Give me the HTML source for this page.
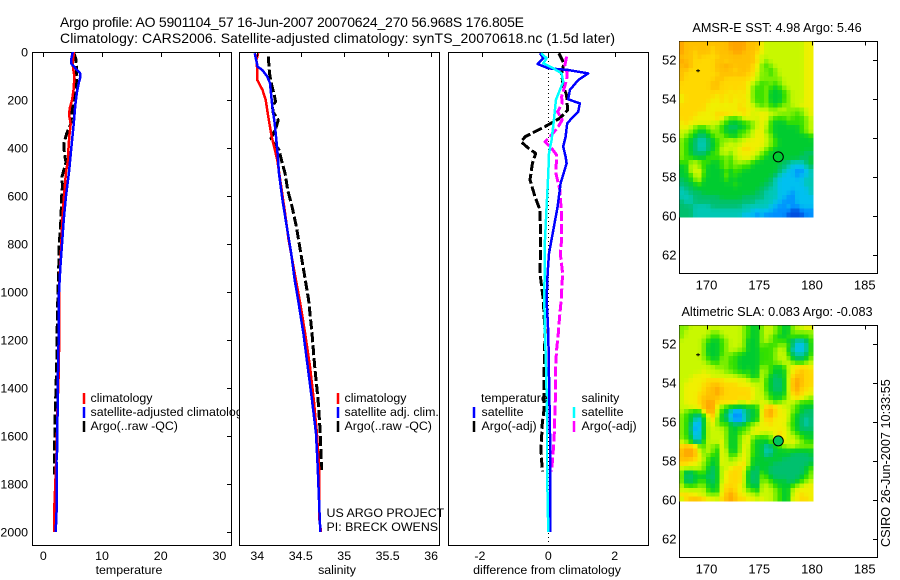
<!DOCTYPE html>
<html lang="en">
<head>
<meta charset="utf-8">
<title>Argo profile 5901104_57</title>
<style>
html,body{margin:0;padding:0;background:#fff;}
svg{display:block;}
text{font-family:"Liberation Sans",Arial,sans-serif;font-size:12.4px;fill:#000;}
.ttl{font-size:14px;}
.maplabel{font-size:12.7px;}
.box{fill:#fff;stroke:#000;stroke-width:1;shape-rendering:crispEdges;}
.mid{text-anchor:middle;}
.end{text-anchor:end;}
</style>
</head>
<body>
<svg id="chart" xmlns="http://www.w3.org/2000/svg" width="900" height="580" viewBox="0 0 900 580">
<rect width="900" height="580" fill="#fff"/>
<text class="ttl" x="60" y="27" textLength="464" lengthAdjust="spacing">Argo profile: AO 5901104_57 16-Jun-2007 20070624_270 56.968S 176.805E</text>
<text class="ttl" x="60" y="43" textLength="555" lengthAdjust="spacing">Climatology: CARS2006. Satellite-adjusted climatology: synTS_20070618.nc (1.5d later)</text>

<g id="p1">
<rect class="box" x="32.5" y="52.5" width="199" height="493"/>
<g id="p1marks"></g>
<g>
<line x1="84" x2="84" y1="393" y2="404" stroke="#f00" stroke-width="2.5"/>
<line x1="84" x2="84" y1="407" y2="418" stroke="#00f" stroke-width="2.5"/>
<line x1="84" x2="84" y1="421" y2="432" stroke="#000" stroke-width="2.5"/>
<text x="90.5" y="402">climatology</text>
<text x="90.5" y="416">satellite-adjusted climatology</text>
<text x="90.5" y="430">Argo(..raw -QC)</text>
</g>
<text class="mid" x="129" y="574">temperature</text>
</g>

<g id="p2">
<rect class="box" x="239.5" y="52.5" width="200" height="493"/>
<g id="p2marks"></g>
<g>
<line x1="338" x2="338" y1="393" y2="404" stroke="#f00" stroke-width="2.5"/>
<line x1="338" x2="338" y1="407" y2="418" stroke="#00f" stroke-width="2.5"/>
<line x1="338" x2="338" y1="421" y2="432" stroke="#000" stroke-width="2.5"/>
<text x="344.5" y="402">climatology</text>
<text x="344.5" y="416">satellite adj. clim.</text>
<text x="344.5" y="430">Argo(..raw -QC)</text>
</g>
<text x="326.5" y="517">US ARGO PROJECT</text>
<text x="326.5" y="531">PI: BRECK OWENS</text>
<text class="mid" x="337" y="574">salinity</text>
</g>

<g id="p3">
<rect class="box" x="448.5" y="52.5" width="200" height="493"/>
<line x1="548.5" x2="548.5" y1="53" y2="545" stroke="#000" stroke-width="1" stroke-dasharray="1 3"/>
<g id="p3marks"></g>
<g>
<line x1="474" x2="474" y1="407" y2="418" stroke="#00f" stroke-width="2.5"/>
<line x1="474" x2="474" y1="421" y2="432" stroke="#000" stroke-width="2.5"/>
<line x1="574" x2="574" y1="407" y2="418" stroke="#0ff" stroke-width="2.5"/>
<line x1="574" x2="574" y1="421" y2="432" stroke="#f0f" stroke-width="2.5"/>
<text x="481" y="402">temperature</text>
<text x="481.5" y="416">satellite</text>
<text x="481.5" y="430">Argo(-adj)</text>
<text x="581.5" y="402">salinity</text>
<text x="581.5" y="416">satellite</text>
<text x="581.5" y="430">Argo(-adj)</text>
</g>
<text class="mid" x="547" y="574">difference from climatology</text>
</g>

<g id="m1">
<text class="mid maplabel" x="777" y="32">AMSR-E SST: 4.98 Argo: 5.46</text>
<rect class="box" x="679.5" y="41.5" width="198" height="232"/>
<g id="m1cells"></g>
<g id="m1marks"></g>
</g>

<g id="m2">
<text class="mid maplabel" x="777" y="316">Altimetric SLA: 0.083 Argo: -0.083</text>
<rect class="box" x="679.5" y="325.5" width="198" height="232"/>
<g id="m2cells"></g>
<g id="m2marks"></g>
</g>

<text class="maplabel" transform="translate(890 547) rotate(-90)">CSIRO 26-Jun-2007 10:33:55</text>
</svg>

<script>
/* ---------- depth ticks ---------- */
const depthTicks = [0,200,400,600,800,1000,1200,1400,1600,1800,2000];
const tempTicks = [0,10,20,30];
const salTicks = [34,34.5,35,35.5,36];
const salTickLabels = ['34','34.5','35','35.5','36'];
const diffTicks = [-2,0,2];
const lonTicks = [170,175,180,185];
const latTicks = [52,54,56,58,60,62];

/* ---------- temperature panel ---------- */
const tClimDepth = [0,50,70,100,150,200,230,260,300,350,400,450,500,600,700,800,1000,1250,1350,1500,1650,1800,1900,2000];
const tClimValue = [5.23,5.0,5.1,5.28,5.2,4.9,4.55,4.38,4.67,4.43,4.3,4.2,3.87,3.53,3.24,3.07,2.67,2.67,2.6,2.4,2.28,2.05,1.87,1.87];
const tSatDepth = [0,30,50,70,90,110,130,170,220,300,400,500,600,700,800,900,1000,1200,1400,1650,1700,1900,2000];
const tSatValue = [5.0,4.77,4.8,5.57,6.3,6.25,6.03,5.7,5.45,5.18,4.77,4.38,3.87,3.47,3.18,2.9,2.67,2.6,2.45,2.39,2.25,2.28,2.11];
const tArgoDepth = [5,30,100,150,200,250,300,340,380,420,460,500,520,560,600,700,800,900,1000,1100,1300,1500,1700,1760];
const tArgoValue = [5.2,5.57,5.7,5.57,5.23,4.9,4.67,3.99,3.53,3.58,3.87,3.4,3.19,3.25,3.13,3.0,2.73,2.62,2.5,2.4,2.28,2.05,1.87,1.87];

/* ---------- salinity panel ---------- */
const sClimDepth = [5,33,75,117,158,200,270,353,450,672,783,922,1061,1172,1311,1450,1589,1727,1936,1991,2000];
const sClimValue = [34.01,33.99,34.0,34.0,34.06,34.097,34.127,34.166,34.23,34.32,34.36,34.43,34.5,34.55,34.606,34.65,34.686,34.71,34.71,34.73,34.73];
const sSatDepth = [5,61,75,103,130,228,297,408,506,617,728,839,950,1033,1172,1311,1450,1589,1727,1866,2000];
const sSatValue = [33.97,34.004,34.058,34.115,34.146,34.173,34.2,34.23,34.25,34.29,34.34,34.39,34.43,34.47,34.53,34.58,34.63,34.675,34.695,34.71,34.725];
const sArgoDepth = [19,89,130,179,207,224,249,283,311,360,381,408,464,506,575,645,728,839,922,1033,1172,1311,1450,1589,1741];
const sArgoValue = [34.127,34.14,34.16,34.196,34.21,34.176,34.18,34.24,34.22,34.158,34.195,34.25,34.288,34.32,34.35,34.4,34.45,34.5,34.54,34.59,34.63,34.66,34.7,34.725,34.74];

/* ---------- difference panel ---------- */
const dTSatDepth = [5,26,50,68,75,89,117,158,197,214,249,270,297,353,394,436,464,547,645,742,839,922,1033,1172,1352,1658,1950,2000];
const dTSatValue = [-0.25,-0.15,-0.32,0,0.6,1.2,0.9,0.65,0.6,0.95,0.9,0.75,0.57,0.52,0.45,0.52,0.55,0.37,0.28,0.15,0.02,-0.02,-0.05,0,0.02,0.06,0.06,0.06];
const dSSatDepth = [5,26,47,68,89,124,158,200,283,367,422,506,645,783,1033,1172,1352,1519,1727,2000];
const dSSatValue = [-0.22,-0.05,-0.15,0.15,0.4,0.45,0.35,0.23,0.17,0.1,0.02,0,-0.05,-0.1,-0.12,-0.1,-0.06,-0.04,-0.04,0];
const dTArgoDepth = [5,47,89,144,179,242,276,311,353,374,401,422,464,533,603,658,783,922,1033,1172,1352,1491,1547,1658,1748];
const dTArgoValue = [0.32,0.47,0.4,0.45,0.55,0.58,0.35,-0.1,-0.7,-0.82,-0.6,-0.38,-0.48,-0.55,-0.4,-0.25,-0.23,-0.25,-0.15,-0.1,-0.13,-0.13,-0.18,-0.22,-0.18];
const dSArgoDepth = [19,54,89,117,186,214,249,283,311,346,374,401,429,506,575,686,783,839,922,1033,1103,1172,1241,1311,1450,1589,1658,1748];
const dSArgoValue = [0.55,0.5,0.57,0.55,0.4,0.42,0.28,0.42,0.3,0.1,-0.1,0.1,0.25,0.23,0.35,0.4,0.4,0.36,0.43,0.39,0.34,0.3,0.25,0.22,0.21,0.18,0.15,0.1];

/* ---------- map data: one level code per cell (0 cold/low ... c warm/high) ---------- */
const sstRows = [
"cbbbbbbbbbbccccbbb988888888899",
"cbbbbbbabbbccccbbb988888888899",
"cbbabbbabbbbccbbba988888888899",
"bbbabaaaabbbbbbbb9888888888899",
"cbbaaaaabbabbbbbba878888888899",
"bcbaaaaabbcbbbbba9767888888899",
"bbaaaaaabbbbabbba9776788888899",
"baaaaaaaabbbbbbaa8776788888899",
"baaaaaaabbaaaaaa98777778888899",
"aaaaaaabbaaaaaa987667678888899",
"aaaaaaabbaaaaaa976676567888899",
"aaaaaaaaaaa9a9a976675556788899",
"9aaaaaaa9a9a9a9976675556788899",
"9aaaaaa99a9a99a976675556788899",
"aaaaaa9999999a9987676567788999",
"aaaaaa9999999aa998887788777789",
"aaaa9999aaaa99a989998877776789",
"aaa99999a976678998997666766678",
"9a9999988765556678986555666678",
"998766787654455678986555555678",
"887655677655566789976555555678",
"876544567765567789987555555556",
"765433456778788999987655555555",
"765433456788889999987655555555",
"76543345688889aa99876555555555",
"765444566887899998765555555544",
"766555666676889987655555555445",
"667876655676787765555554433345",
"558876555676766655555544322234",
"558896555565665555555543221123",
"556886555575655555555432221223",
"455785555565555555554322222233",
"445565555555655555544322222233",
"344555555555555555443322222223",
"334445555555555554433322212223",
"333444444555554444433322112222",
"433444444444444443333221112222",
"444333344444443333332211211222",
"444333333333333322222111100111",
"444333333333332221211111000011"
];
const slaRows = [
"778888888888887655788765578899",
"788888877888887655788765577777",
"788888766788887655787655666667",
"888887655678887555787666543346",
"888887555678887555766677642236",
"888887555678877555666788532236",
"888887555677665555666788643346",
"888887655776655555666788754457",
"888888766776655555666778876678",
"88888888777665555577655689aaa9",
"88888988887766565587655589abaa",
"8889999888888776558754558abbaa",
"889999aaaa999998778654458bcbaa",
"89999aabbaaaa999888654458bcbaa",
"89999abbcbaaaaaa988654458bcaa9",
"8999aabbcbaaaaaa988755558aba99",
"8999abbbbaaaaaaa9887655689a987",
"8999abccaaaaa88a88987678887666",
"8899abcc97655555568aba98876555",
"87665acc86531134559bca99876544",
"7654459b85421134559bca99865444",
"7653258a75521124559aa999865434",
"76421589766544567899a999765434",
"764125888875566789999999865444",
"7642258888755677998889a9876555",
"7652258888755789766678a9887655",
"875336888975578965556789898766",
"abba76876975579865534567887777",
"bccb87875985579865533555555555",
"bccb97765986689865534555544445",
"bbba98655987889855555554444444",
"aa998765598889a855555444444445",
"888887545889aa9654554444444456",
"74456654589aaa8544654444444457",
"74455544589aaa8544765444444567",
"74456654589aaa8544776555445678",
"8666775559aaa98554887655567899",
"8888886559aba98765888765589999",
"aa99887779bcb99887888765589a99",
"8abbba998abcbaa998988765599aa9"
];
const profileLon = [176.805];
const profileLat = [56.968];
const markLon = [169.2];
const markLat = [52.55];
const sstAtProfile = [5];
const slaAtProfile = [4.3];

/* ---------- scales and styling ---------- */
const levelRGB = [[0,80,224],[0,144,255],[0,192,240],[0,200,180],[0,192,110],[0,204,48],[52,224,0],[128,240,0],[200,248,0],[240,240,0],[255,216,0],[255,192,0],[255,164,0]];
const NS = 'http://www.w3.org/2000/svg';
const yDepth = d => 52 + 0.24 * d;
const xTemp = v => 43.3 + 5.87 * v;
const xSal = v => 257.3 + 86.9 * (v - 34);
const xDiff = v => 548.3 + 33.2 * v;
const xLon = lon => 706.5 + 10.55 * (lon - 170);
const yLat1 = lat => 60 + 19.5 * (lat - 52);
const yLat2 = lat => 344 + 19.5 * (lat - 52);
const LON0 = 167.44, DLON = 0.4218, LAT0 = 51.05, DLAT = 0.2251;

function colorOf(level) {
  const lo = Math.max(0, Math.min(11, Math.floor(level)));
  const f = Math.max(0, Math.min(1, level - lo));
  const a = levelRGB[lo], b = levelRGB[lo + 1];
  return 'rgb(' + [0, 1, 2].map(i => Math.round(a[i] + (b[i] - a[i]) * f)).join(',') + ')';
}
function levelAt(rows, r, c) {
  const rr = Math.max(0, Math.min(rows.length - 1, r));
  const row = rows[rr];
  const cc = Math.max(0, Math.min(row.length - 1, c));
  return parseInt(row[cc], 16);
}
function smoothLevel(rows, r, c) {
  let sum = 4 * levelAt(rows, r, c);
  sum += levelAt(rows, r - 1, c) + levelAt(rows, r + 1, c) + levelAt(rows, r, c - 1) + levelAt(rows, r, c + 1);
  return sum / 8;
}
function drawLine(parent, name, depths, values, xf, color, width, dash) {
  const pts = depths.map((d, i) => xf(values[i]).toFixed(1) + ',' + yDepth(d).toFixed(1)).join(' ');
  const el = document.createElementNS(NS, 'polyline');
  
  
  el.setAttribute('points', pts);
  el.setAttribute('fill', 'none');
  el.setAttribute('stroke', color);
  el.setAttribute('stroke-width', width);
  el.setAttribute('stroke-linejoin', 'round');
  el.setAttribute('shape-rendering', 'crispEdges');
  if (dash) el.setAttribute('stroke-dasharray', dash);
  parent.appendChild(el);
}
function drawTick(parent, x1, y1, x2, y2) {
  const el = document.createElementNS(NS, 'line');
  
  
  el.setAttribute('x1', x1);
  el.setAttribute('y1', y1);
  el.setAttribute('x2', x2);
  el.setAttribute('y2', y2);
  el.setAttribute('stroke', '#000');
  el.setAttribute('shape-rendering', 'crispEdges');
  parent.appendChild(el);
}
function drawLabel(parent, x, y, anchor, str, size) {
  const el = document.createElementNS(NS, 'text');
  
  
  el.setAttribute('x', x);
  el.setAttribute('y', y);
  el.setAttribute('text-anchor', anchor);
  if (size) el.setAttribute('style', 'font-size:' + size + 'px');
  el.textContent = str;
  parent.appendChild(el);
}
function drawHeat(parent, rows, yf) {
  rows.forEach((row, r) => {
    for (let c = 0; c < row.length; c++) {
      const x0 = xLon(LON0 + c * DLON), x1 = xLon(LON0 + (c + 1) * DLON);
      const y0 = yf(LAT0 + r * DLAT), y1 = yf(LAT0 + (r + 1) * DLAT);
      const el = document.createElementNS(NS, 'rect');
      
      
      el.setAttribute('x', x0.toFixed(2));
      el.setAttribute('y', y0.toFixed(2));
      el.setAttribute('width', (x1 - x0 + 0.4).toFixed(2));
      el.setAttribute('height', (y1 - y0 + 0.4).toFixed(2));
      el.setAttribute('fill', colorOf(smoothLevel(rows, r, c)));
      el.setAttribute('shape-rendering', 'crispEdges');
      parent.appendChild(el);
    }
  });
}
function drawMapMarks(parent, yf, level, bottom) {
  lonTicks.forEach(l => {
    drawTick(parent, Math.round(xLon(l)) + 0.5, bottom - 232, Math.round(xLon(l)) + 0.5, bottom - 228);
    drawLabel(parent, xLon(l), bottom + 16, 'middle', String(l), 13);
  });
  latTicks.forEach(l => {
    drawTick(parent, 873, Math.round(yf(l)) + 0.5, 877, Math.round(yf(l)) + 0.5);
    drawLabel(parent, 676.5, yf(l) + 4.5, 'end', String(l), 13);
  });
  const mx = xLon(markLon[0]), my = yf(markLat[0]);
  const plus = document.createElementNS(NS, 'path');
  
  
  plus.setAttribute('d', 'M' + (mx - 2) + ' ' + my + 'H' + (mx + 2) + 'M' + mx + ' ' + (my - 1.5) + 'V' + (my + 1.5));
  plus.setAttribute('stroke', '#000');
  plus.setAttribute('fill', 'none');
  parent.appendChild(plus);
  const dot = document.createElementNS(NS, 'circle');
  
  
  dot.setAttribute('cx', xLon(profileLon[0]));
  dot.setAttribute('cy', yf(profileLat[0]));
  dot.setAttribute('r', 5);
  dot.setAttribute('fill', colorOf(level));
  dot.setAttribute('stroke', '#000');
  dot.setAttribute('stroke-width', 1);
  parent.appendChild(dot);
}

/* ---------- render panels ---------- */
const p1 = document.getElementById('p1marks');
const p2 = document.getElementById('p2marks');
const p3 = document.getElementById('p3marks');
const DASH = '10 3';

drawLine(p1, 'temperature-argo-line', tArgoDepth, tArgoValue, xTemp, '#000', 3, DASH);
drawLine(p1, 'temperature-climatology-line', tClimDepth, tClimValue, xTemp, '#f00', 2.5);
drawLine(p1, 'temperature-satellite-line', tSatDepth, tSatValue, xTemp, '#00f', 2.5);
drawLine(p2, 'salinity-argo-line', sArgoDepth, sArgoValue, xSal, '#000', 3, DASH);
drawLine(p2, 'salinity-climatology-line', sClimDepth, sClimValue, xSal, '#f00', 2.5);
drawLine(p2, 'salinity-satellite-line', sSatDepth, sSatValue, xSal, '#00f', 2.5);
drawLine(p3, 'difference-temperature-argo-line', dTArgoDepth, dTArgoValue, xDiff, '#000', 3, DASH);
drawLine(p3, 'difference-salinity-argo-line', dSArgoDepth, dSArgoValue, xDiff, '#f0f', 3, DASH);
drawLine(p3, 'difference-temperature-satellite-line', dTSatDepth, dTSatValue, xDiff, '#00f', 2.5);
drawLine(p3, 'difference-salinity-satellite-line', dSSatDepth, dSSatValue, xDiff, '#0ff', 2.5);

depthTicks.forEach(d => {
  drawTick(p1, 227, Math.round(yDepth(d)) + 0.5, 231, Math.round(yDepth(d)) + 0.5);
  drawLabel(p1, 28, yDepth(d) + 4.5, 'end', String(d));
});
tempTicks.forEach(v => {
  drawTick(p1, Math.round(xTemp(v)) + 0.5, 53, Math.round(xTemp(v)) + 0.5, 57);
  drawLabel(p1, xTemp(v), 560, 'middle', String(v));
});
salTicks.forEach((v, i) => {
  drawTick(p2, Math.round(xSal(v)) + 0.5, 53, Math.round(xSal(v)) + 0.5, 57);
  drawLabel(p2, xSal(v), 560, 'middle', salTickLabels[i]);
});
diffTicks.forEach(v => {
  drawTick(p3, Math.round(xDiff(v)) + 0.5, 53, Math.round(xDiff(v)) + 0.5, 57);
  drawLabel(p3, xDiff(v) - (v < 0 ? 2 : 0), 560, 'middle', String(v));
});

drawHeat(document.getElementById('m1cells'), sstRows, yLat1);
drawHeat(document.getElementById('m2cells'), slaRows, yLat2);
drawMapMarks(document.getElementById('m1marks'), yLat1, sstAtProfile[0], 273.5);
drawMapMarks(document.getElementById('m2marks'), yLat2, slaAtProfile[0], 557.5);
</script>
</body>
</html>
